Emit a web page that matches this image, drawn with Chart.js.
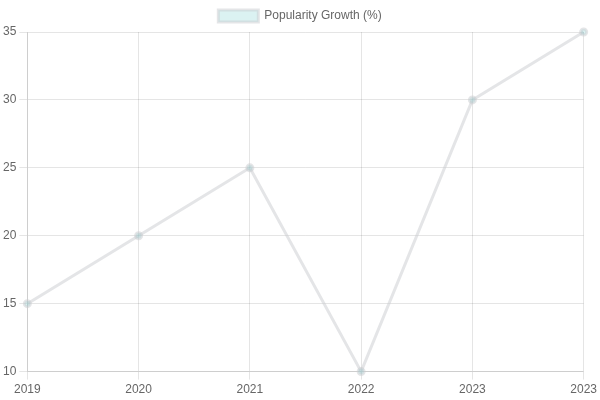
<!DOCTYPE html>
<html>
<head>
<meta charset="utf-8">
<script src="https://cdn.jsdelivr.net/npm/chart.js@4"></script>
<style>html,body{margin:0;padding:0;background:#fff}#wrap{width:600px;height:400px}</style>
</head>
<body>
<div id="wrap"><canvas id="chart"></canvas></div>
<script>
const years = ['2019', '2020', '2021', '2022', '2023', '2023'];
const growth = [15, 20, 25, 10, 30, 35];

new Chart(document.getElementById('chart'), {
    type: 'line',
    data: {
        labels: years,
        datasets: [{
            label: 'Popularity Growth (%)',
            data: growth,
            backgroundColor: 'rgba(75, 192, 192, 0.2)',
            borderColor: 'rgba(201, 203, 207, 0.5)',
            borderWidth: 3,
            pointRadius: 3,
            tension: 0
        }]
    },
    options: {
        responsive: true,
        maintainAspectRatio: false,
        animation: false,
        scales: {
            y: { ticks: { stepSize: 5 } }
        }
    }
});
</script>
</body>
</html>
